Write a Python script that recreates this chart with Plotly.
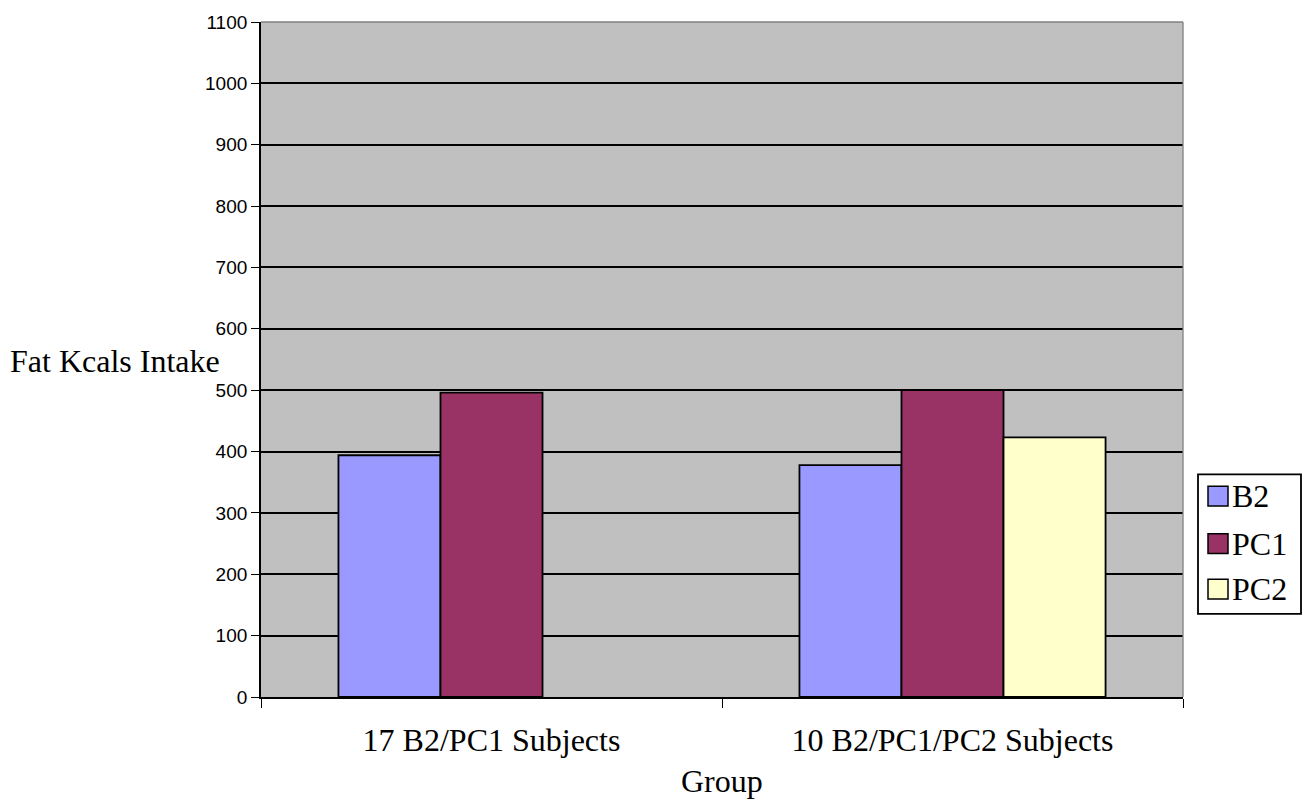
import plotly.graph_objects as go

# Fat kcal intake per group and test period
groups = ["17 B2/PC1 Subjects", "10 B2/PC1/PC2 Subjects"]
series = ["B2", "PC1", "PC2"]
b2_vals = [394, 378]
pc1_vals = [496, 500]
pc2_vals = [None, 423]
colors = ["#9999FF", "#993366", "#FFFFCC"]
y_ticks = list(range(0, 1101, 100))

serif = "Liberation Serif, Times New Roman, serif"
sans = "Liberation Sans, Arial, sans-serif"

fig = go.Figure()
for name, vals, col in zip(series, [b2_vals, pc1_vals, pc2_vals], colors):
    fig.add_trace(go.Bar(
        x=groups, y=vals, name=name,
        marker=dict(color=col, line=dict(color="black", width=1.8)),
        showlegend=False,
    ))

W, H = 1311, 799
L, R, T, B = 261, 128, 15, 102
pw, ph = W - L - R, H - T - B

def px(x):
    return (x - L) / pw

def py(y):
    return (H - B - y) / ph

fig.update_layout(
    width=W, height=H,
    margin=dict(l=L, r=R, t=T, b=B),
    paper_bgcolor="white",
    plot_bgcolor="#C0C0C0",
    barmode="group",
    bargap=0.336,
    bargroupgap=0,
    xaxis=dict(
        type="category",
        showgrid=False,
        showline=True, linecolor="black", linewidth=1.8,
        ticks="outside", tickson="boundaries", ticklen=9, tickcolor="black", tickwidth=1.3,
        tickfont=dict(family=serif, size=32, color="black"),
        ticklabelstandoff=14,
    ),
    yaxis=dict(
        range=[0, 1100], tickvals=y_ticks,
        showgrid=True, gridcolor="black", gridwidth=1.5,
        showline=True, linecolor="black", linewidth=1.8,
        ticks="outside", ticklen=8, tickcolor="black", tickwidth=1.3,
        tickfont=dict(family=sans, size=19, color="black"),
        zeroline=False,
    ),
    shapes=[
        dict(type="line", xref="paper", yref="paper", x0=0, x1=1, y0=1, y1=1,
             line=dict(color="#808080", width=1.5), layer="above"),
        dict(type="line", xref="paper", yref="paper", x0=1, x1=1, y0=0, y1=1,
             line=dict(color="#808080", width=1.3), layer="above"),
    ],
    annotations=[
        dict(text="Fat Kcals Intake", xref="paper", yref="paper",
             x=px(222), y=py(358), xanchor="right", yanchor="middle",
             showarrow=False, font=dict(family=serif, size=32, color="black")),
        dict(text="Group", xref="paper", yref="paper",
             x=0.5, y=py(782), xanchor="center", yanchor="middle",
             showarrow=False, font=dict(family=serif, size=32, color="black")),
    ],
)

# Legend drawn as a framed box with colour swatches
box = dict(x0=1198, x1=1301, y0=472, y1=613)
fig.add_shape(type="rect", xref="paper", yref="paper",
              x0=px(box["x0"]), x1=px(box["x1"]), y0=py(box["y1"]), y1=py(box["y0"]),
              line=dict(color="black", width=1.8), fillcolor="white", layer="above")
row_y = [494, 542, 588]
for name, col, yc in zip(series, colors, row_y):
    fig.add_shape(type="rect", xref="paper", yref="paper",
                  x0=px(1208), x1=px(1228), y0=py(yc + 10), y1=py(yc - 10),
                  line=dict(color="black", width=1.5), fillcolor=col, layer="above")
    fig.add_annotation(text=name, xref="paper", yref="paper",
                       x=px(1230), y=py(yc), xanchor="left", yanchor="middle",
                       showarrow=False, font=dict(family=serif, size=32, color="black"))

fig.write_html("out.html")
